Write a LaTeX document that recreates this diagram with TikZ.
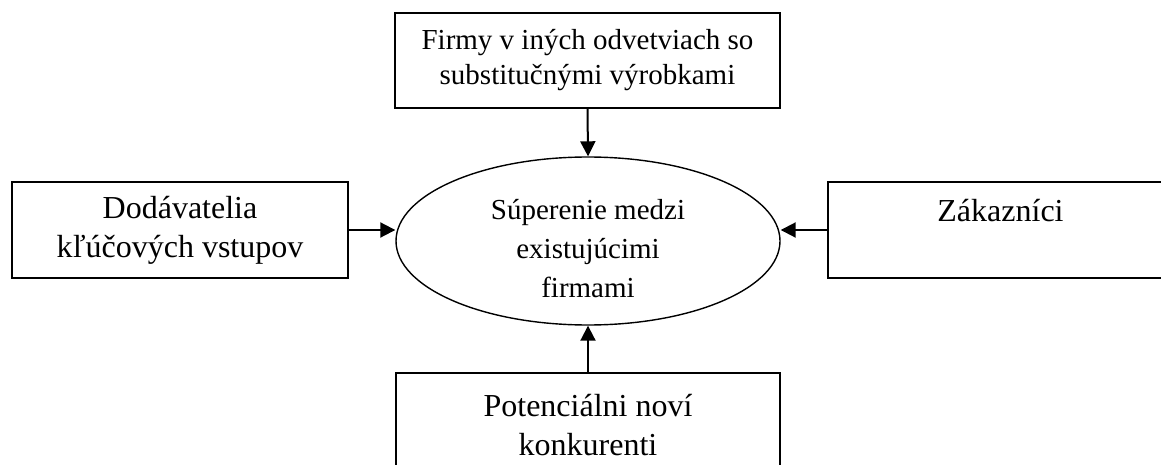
\documentclass[tikz,border=0pt]{standalone}
\usepackage{fontspec}
\setmainfont{Liberation Serif}
\usetikzlibrary{arrows.meta,shapes.geometric}
\tikzset{
  box/.style={draw, line width=1.4pt, inner sep=0pt, align=center},
  ell/.style={ellipse, draw, line width=1.4pt, inner sep=0pt, align=center,
    minimum width=384pt, minimum height=168pt},
  flow/.style={-{Triangle[length=15pt, width=15pt]}, line width=2pt},
  txtA/.style={font=\fontsize{29}{35}\selectfont},
  txtB/.style={font=\fontsize{32}{39}\selectfont},
}

\begin{document}
\begin{tikzpicture}[x=1pt, y=-1pt]
  \useasboundingbox (0,0) rectangle (1161,465);
  % the rivalry in the middle
  \node[ell, font=\fontsize{29}{39}\selectfont] (sup) at (588,241) {\rule{0pt}{36pt}Súperenie medzi\\existujúcimi\\firmami};
  % the four forces around it
  \node[box, txtA, minimum width=385pt, minimum height=95pt] (sub) at (587.5,60.5)
    {Firmy v iných odvetviach so\\substitučnými výrobkami};
  \node[box, txtB, minimum width=336pt, minimum height=96pt] (dod) at (180,230)
    {Dodávatelia\\kľúčových vstupov};
  \node[box, txtB, minimum width=345pt, minimum height=96pt] (zak) at (1000.5,230)
    {\rule{0pt}{34pt}Zákazníci\\\strut};
  \node[box, txtB, minimum width=384pt, minimum height=104pt] (pot) at (588,425)
    {Potenciálni noví\\konkurenti};
  \draw[flow] (sub.south) -- (sup.north);
  \draw[flow] (dod.east) -- (dod.east -| sup.west);
  \draw[flow] (zak.west) -- (zak.west -| sup.east);
  \draw[flow] (pot.north) -- (sup.south);
\end{tikzpicture}
\end{document}
